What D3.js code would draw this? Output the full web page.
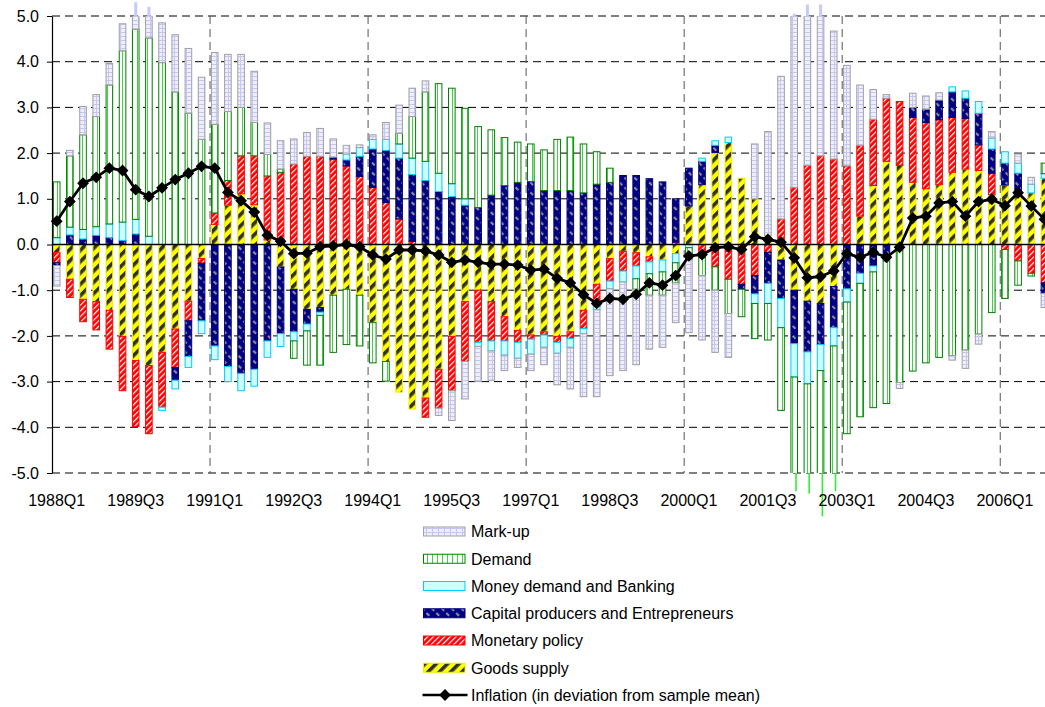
<!DOCTYPE html>
<html><head><meta charset="utf-8">
<script src="https://cdn.jsdelivr.net/npm/d3@7"></script>
<style>
html,body{margin:0;padding:0;background:#fff;}
svg{display:block;font-family:"Liberation Sans",Arial,sans-serif;}
</style></head><body>
<svg id="chart" width="1045" height="707"></svg>
<script>
// ---------- DATA ----------
const years = d3.range(1988, 2007);
const quarters = years.flatMap(y => [1,2,3,4].map(q => y + "Q" + q));
const tickLabels = ["1988Q1","1989Q3","1991Q1","1992Q3","1994Q1","1995Q3","1997Q1","1998Q3","2000Q1","2001Q3","2003Q1","2004Q3","2006Q1"];
const gridQuarters = ["1991Q1","1994Q1","1997Q1","2000Q1","2003Q1","2006Q1"];
const yTicks = [-5,-4,-3,-2,-1,0,1,2,3,4,5];

const goodsSupply = [-0.18,-0.76,-1.2,-1.25,-1.44,-2.01,-2.54,-2.65,-2.36,-1.85,-1.24,-0.31,0.44,0.86,1.11,0.87,0.1,-0.49,-0.98,-1.42,
 -1.38,-1.11,-0.98,-1.11,-1.71,-2.56,-3.23,-3.6,-3.36,-2.73,-2.01,-1.25,-1.0,-1.25,-1.58,-1.88,-1.98,-1.91,-2.01,-1.91,
 -1.44,-0.87,-0.31,-0.15,-0.18,-0.27,-0.34,-0.2,0.84,1.31,2.01,2.23,1.45,1.0,0.2,-0.34,-1.0,-1.24,-1.29,-0.92,
 0.0,0.62,1.29,1.82,1.73,1.36,1.22,1.31,1.58,1.65,1.62,1.09,1.3,1.13,1.13,1.45];
const monetaryPolicy = [-0.22,-0.4,-0.49,-0.62,-0.85,-1.19,-1.44,-1.49,-1.2,-0.84,-0.43,-0.1,0.25,0.54,0.83,1.07,1.4,1.58,1.76,1.93,
 1.93,1.87,1.72,1.49,1.25,0.92,0.56,0.07,-0.42,-0.85,-1.19,-1.31,-1.14,-0.86,-0.53,-0.26,-0.09,-0.07,-0.13,-0.15,
 -0.4,-0.49,-0.49,-0.43,-0.29,-0.11,0.0,0.05,0.0,-0.29,-0.49,-0.76,-0.87,-0.68,-0.17,0.56,1.25,1.73,1.94,1.87,
 1.72,1.55,1.45,1.38,1.4,1.42,1.45,1.42,1.2,1.11,0.56,0.47,-0.11,-0.36,-0.63,-0.84];
const capitalProducers = [-0.06,0.21,0.12,0.2,0.15,0.09,0.23,0,0,-0.28,-0.78,-1.26,-2.22,-2.67,-2.82,-2.73,-2.11,-1.46,-0.93,-0.32,
 -0.1,0.04,0.13,0.44,0.84,1.14,1.33,1.46,1.4,1.16,1.05,0.86,0.81,1.08,1.29,1.36,1.38,1.18,1.18,1.18,
 1.13,1.32,1.36,1.51,1.51,1.44,1.37,0.95,0.83,0.51,0.16,0,-0.11,-0.4,-0.68,-0.84,-1.17,-1.11,-0.9,-0.9,
 -0.97,-0.63,-0.47,-0.25,0,0.22,0.29,0.43,0.56,0.44,0.69,0.53,0.48,0.43,0,-0.23];
const moneyDemand = [0.15,0.17,0.21,0.19,0.3,0.4,0.32,0.18,-0.07,-0.19,-0.24,-0.28,-0.3,-0.33,-0.38,-0.37,-0.36,-0.28,-0.2,-0.15,
 -0.07,0,0.13,0.19,0.21,0.24,0.31,0.36,0.42,0.4,0.28,0.14,-0.09,-0.22,-0.31,-0.35,-0.33,-0.27,-0.24,-0.19,
 -0.11,-0.07,-0.17,-0.24,-0.28,-0.26,-0.26,-0.2,-0.07,0.07,0.1,0.12,0,-0.21,-0.44,-0.64,-0.73,-0.7,-0.57,-0.4,
 -0.29,-0.22,-0.13,-0.11,0,0,0,0,0.11,0.16,0.26,0.24,0.25,0.22,0.19,0.1];
const demand = [1.22,1.56,2.07,2.41,3.04,3.75,4.16,4.34,3.98,3.34,2.87,2.3,1.94,1.51,1.06,0.73,0.47,0.07,-0.38,-0.75,
 -1.09,-1.25,-1.21,-1.11,-0.88,-0.43,0.23,0.91,1.52,1.96,2.09,1.98,1.77,1.43,1.05,0.88,0.82,0.89,1.12,1.17,
 1.07,0.71,0.31,0,-0.23,-0.47,-0.51,-0.44,-0.26,-0.39,-0.51,-0.75,-0.6,-0.77,-0.8,-1.81,-2.5,-2.4,-3.19,-3.18,
 -2.88,-2.92,-2.97,-3.12,-3.02,-2.77,-2.59,-2.47,-2.43,-2.31,-1.96,-1.49,-1.07,-0.53,-0.06,0.23];
const markUp = [-0.45,0.12,0.62,0.48,0.47,0.59,0.59,0.68,0.87,1.25,1.42,1.36,1.57,1.25,1.16,1.12,0.69,0.62,0.55,0.52,
 0.61,0.4,0.19,0.06,0.1,0.37,0.62,0.62,0.24,-0.16,-0.65,-0.82,-0.77,-0.64,-0.34,-0.2,-0.36,-0.38,-0.69,-0.91,
 -1.38,-1.9,-1.9,-1.94,-1.65,-1.18,-1.14,-0.87,-1.6,-1.41,-1.36,-0.96,0,1.2,2.27,3.12,3.8,3.52,3.31,2.8,
 2.2,1.32,0.65,0.08,-0.13,0.31,0.29,0.16,-0.1,-0.4,-0.22,0.14,0,0.2,0.15,-0.31];
const inflation = [0.51,0.94,1.34,1.47,1.67,1.62,1.2,1.05,1.24,1.42,1.56,1.71,1.67,1.14,0.96,0.71,0.2,0.07,-0.2,-0.19,
 -0.05,-0.03,0.0,-0.05,-0.23,-0.32,-0.12,-0.12,-0.14,-0.23,-0.39,-0.34,-0.39,-0.43,-0.43,-0.45,-0.56,-0.54,-0.74,-0.84,
 -1.1,-1.29,-1.18,-1.2,-1.09,-0.84,-0.89,-0.68,-0.25,-0.22,-0.07,-0.05,-0.11,0.17,0.11,0.05,-0.29,-0.73,-0.7,-0.58,
 -0.2,-0.28,-0.17,-0.28,-0.06,0.58,0.62,0.91,0.94,0.62,0.94,0.99,0.85,1.13,0.84,0.55];

const seriesKeys = ["goods","monetary","capital","money","demand","markup"];
const seriesNames = {markup:"Mark-up", demand:"Demand", money:"Money demand and Banking",
  capital:"Capital producers and Entrepreneurs", monetary:"Monetary policy", goods:"Goods supply"};
const legendOrder = ["markup","demand","money","capital","monetary","goods"];
const inflationName = "Inflation (in deviation from sample mean)";

// ---------- SETUP ----------
const svg = d3.select("#chart");
const W = 1045, H = 707;
svg.append("rect").attr("width", W).attr("height", H).attr("fill", "#fff");

const step = 13.17, left = 52;
const x = d3.scaleBand().domain(quarters).range([left, left + step * quarters.length]).padding(0);
const barOff = 1.4, barW = 6.6;
const cx = q => x(q) + barOff + barW / 2;
const y = d3.scaleLinear().domain([-5, 5]).range([473, 16]);

const defs = svg.append("defs");
function stripe(id, size, angle, bg, fg, sw, sh) {
  const p = defs.append("pattern").attr("id", id).attr("patternUnits", "userSpaceOnUse")
    .attr("width", size).attr("height", size).attr("patternTransform", `rotate(${angle})`);
  p.append("rect").attr("width", size).attr("height", size).attr("fill", bg);
  p.append("rect").attr("x", 0).attr("y", 0).attr("width", sw).attr("height", sh).attr("fill", fg);
}
stripe("pGoods", 8, 45, "#ffff00", "#2e2e2e", 3.6, 8);
stripe("pMonetary", 4, 45, "#ff0000", "#ffffff", 1.2, 4);
stripe("pCapital", 7, -45, "#000080", "#8a8a9a", 2.2, 4);
(function(){
  const p = defs.append("pattern").attr("id","pMarkup").attr("patternUnits","userSpaceOnUse").attr("width",6).attr("height",4);
  p.append("rect").attr("width",6).attr("height",4).attr("fill","#eeeefc");
  p.append("rect").attr("width",6).attr("height",1).attr("fill","#c6c6f2");
  p.append("rect").attr("width",1).attr("height",4).attr("fill","#c6c6f2");
  const d = defs.append("pattern").attr("id","pDemand").attr("patternUnits","userSpaceOnUse").attr("width",5).attr("height",5);
  d.append("rect").attr("width",5).attr("height",5).attr("fill","#ffffff");
  d.append("rect").attr("x",2).attr("width",1).attr("height",5).attr("fill","#44d044");
})();
const fillOf = {goods:"url(#pGoods)", monetary:"url(#pMonetary)", capital:"url(#pCapital)",
  money:"#ccffff", demand:"url(#pDemand)", markup:"url(#pMarkup)"};
const strokeOf = {goods:"#f0f000", monetary:"#ff0000", capital:"#000080",
  money:"#00ccff", demand:"#008000", markup:"#a0a0a0"};

defs.append("clipPath").attr("id","plotClip").append("rect")
  .attr("x", left).attr("y", y(5)).attr("width", W - left + 20).attr("height", y(-5) - y(5));

// ---------- GRID ----------
const grid = svg.append("g");
grid.selectAll("line.h").data(yTicks.filter(v => v !== 0)).join("line")
  .attr("x1", left).attr("x2", W).attr("y1", d => y(d)).attr("y2", d => y(d))
  .attr("stroke", "#000").attr("stroke-width", 1).attr("stroke-dasharray", "8,5");
grid.selectAll("line.v").data(gridQuarters).join("line")
  .attr("x1", d => x(d)).attr("x2", d => x(d)).attr("y1", y(5)).attr("y2", y(-5))
  .attr("stroke", "#555").attr("stroke-width", 1).attr("stroke-dasharray", "8,5");

// ---------- BARS ----------
const rows = quarters.map((q, i) => ({q, goods: goodsSupply[i], monetary: monetaryPolicy[i],
  capital: capitalProducers[i], money: moneyDemand[i], demand: demand[i], markup: markUp[i]}));
const stacked = d3.stack().keys(seriesKeys).offset(d3.stackOffsetDiverging)(rows);

const barsG = svg.append("g").attr("clip-path", "url(#plotClip)");
stacked.forEach(s => {
  barsG.append("g").selectAll("rect").data(s.filter(d => Math.abs(d[1] - d[0]) > 0.001)).join("rect")
    .attr("x", d => x(d.data.q) + barOff)
    .attr("width", barW)
    .attr("y", d => y(Math.max(d[0], d[1])))
    .attr("height", d => Math.abs(y(d[0]) - y(d[1])))
    .attr("fill", fillOf[s.key])
    .attr("stroke", strokeOf[s.key])
    .attr("stroke-width", 1);
});
// overflow beyond axis range
const over = svg.append("g");
stacked.forEach(s => {
  const hi = s.filter(d => Math.max(d[0], d[1]) > 5);
  const lo = s.filter(d => Math.min(d[0], d[1]) < -5);
  over.selectAll(null).data(hi).join("rect")
    .attr("x", d => cx(d.data.q) - 1.5).attr("width", 3)
    .attr("y", d => y(Math.max(d[0], d[1]))).attr("height", d => y(5) - y(Math.max(d[0], d[1])))
    .attr("fill", s.key === "demand" ? "#33ee33" : "#c8c8ff");
  over.selectAll(null).data(lo).join("rect")
    .attr("x", d => cx(d.data.q) + 1).attr("width", 1.6)
    .attr("y", y(-5)).attr("height", d => y(Math.min(d[0], d[1])) - y(-5))
    .attr("fill", s.key === "demand" ? "#33ee33" : "#c8c8ff");
});

// zero line
svg.append("line").attr("x1", left).attr("x2", W).attr("y1", y(0)).attr("y2", y(0))
  .attr("stroke", "#000").attr("stroke-width", 1.3);

// ---------- AXES ----------
const yAxis = d3.axisLeft(y).tickValues(yTicks).tickFormat(d => d.toFixed(1)).tickSize(5).tickSizeOuter(0).tickPadding(8);
const ya = svg.append("g").attr("transform", `translate(${left},0)`).call(yAxis);
ya.select(".domain").attr("stroke", "#000").attr("stroke-width", 1.2);
ya.selectAll(".tick line").attr("stroke", "#000");
ya.selectAll("text").attr("font-size", 16).attr("fill", "#000").attr("font-family", "Liberation Sans, Arial, sans-serif");

svg.append("g").selectAll("text").data(tickLabels).join("text")
  .attr("x", d => cx(d)).attr("y", 506).attr("text-anchor", "middle")
  .attr("font-size", 16).attr("fill", "#000").text(d => d);

// ---------- INFLATION LINE ----------
const infl = quarters.map((q, i) => ({q, v: inflation[i]}));
svg.append("path").datum(infl)
  .attr("d", d3.line().x(d => cx(d.q)).y(d => y(d.v)))
  .attr("fill", "none").attr("stroke", "#000").attr("stroke-width", 2.8).attr("stroke-linejoin", "round");
const diamond = d3.symbol().type(d3.symbolSquare).size(70);
svg.append("g").selectAll("path").data(infl).join("path")
  .attr("d", diamond)
  .attr("transform", d => `translate(${cx(d.q)},${y(d.v)}) rotate(45)`)
  .attr("fill", "#000");

// ---------- LEGEND ----------
const lg = svg.append("g");
const ly0 = 531.5, ldy = 27.25, lx = 423.5;
legendOrder.forEach((k, i) => {
  const yy = ly0 + i * ldy;
  lg.append("rect").attr("x", lx).attr("y", yy - 4.5).attr("width", 41.5).attr("height", 9)
    .attr("fill", fillOf[k]).attr("stroke", strokeOf[k]).attr("stroke-width", 1);
  lg.append("text").attr("x", 471).attr("y", yy).attr("dy", "0.36em")
    .attr("font-size", 16).attr("fill", "#000").text(seriesNames[k]);
});
{
  const yy = ly0 + 6 * ldy;
  lg.append("line").attr("x1", lx - 1).attr("x2", lx + 44).attr("y1", yy).attr("y2", yy)
    .attr("stroke", "#000").attr("stroke-width", 2.6);
  lg.append("path").attr("d", diamond).attr("transform", `translate(${lx + 21.5},${yy}) rotate(45)`).attr("fill", "#000");
  lg.append("text").attr("x", 471).attr("y", yy).attr("dy", "0.36em")
    .attr("font-size", 16).attr("fill", "#000").text(inflationName);
}
</script>
</body></html>
